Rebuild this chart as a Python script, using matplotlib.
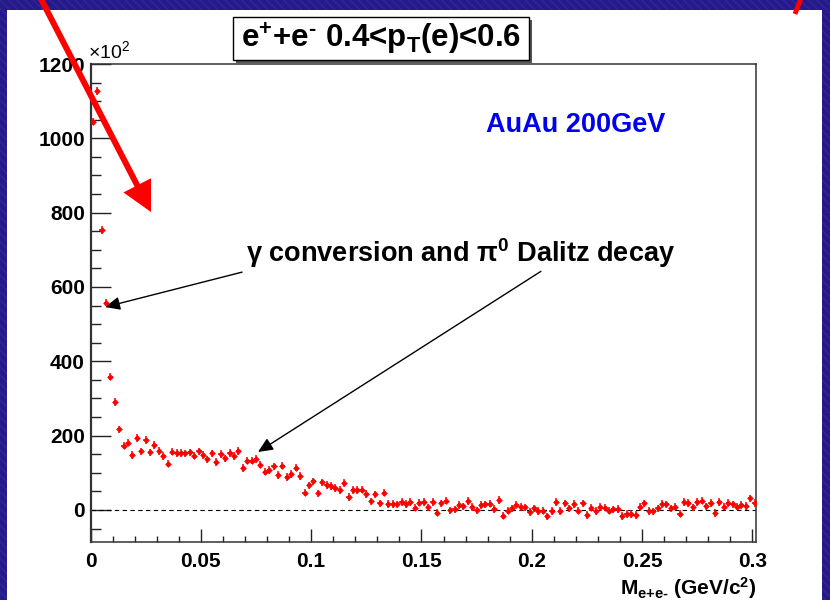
import numpy as np
import matplotlib
matplotlib.use("Agg")
import matplotlib.pyplot as plt
from matplotlib.patches import Rectangle, FancyArrow
from matplotlib.lines import Line2D
from matplotlib.transforms import IdentityTransform
from matplotlib.ticker import MultipleLocator, FuncFormatter

plt.rcParams['font.family'] = ['Liberation Sans', 'DejaVu Sans']
plt.rcParams['font.weight'] = 'bold'
plt.rcParams['mathtext.default'] = 'regular'

W, H = 830, 600

# e+e- invariant-mass histogram, 2 MeV bins, counts in units of 10^2
bin_width = 0.002
counts = [
    1045, 1127, 753, 558, 359, 290, 217, 173, 181, 148, 194, 158, 188,
    155, 175, 159, 145, 125, 157, 153, 153, 152, 155, 146, 158, 148, 136,
    152, 129, 151, 139, 153, 145, 159,
    113, 133, 133, 137, 122, 103, 108, 117, 94, 119, 89, 97, 114, 91, 47,
    66, 77, 45, 74, 67, 65, 59, 54, 72, 35, 54, 54,
    55, 43, 23, 42, 18, 47, 16, 16, 15, 22, 16, 22, 6, 20, 22, 7, 22, -7,
    18, 25, -1, 2, 13, 10, 24, 8, -1, 13, 15, 17,
    3, 27, -15, -2, 4, 14, 8, 7, -6, 4, -3, -2, -17, -3, 22, -3, 18, 4, 16,
    -2, 18, -13, 6, -3, 9, 6, -2, 2, 3,
    -16, -11, -11, -13, 9, 18, -3, -4, 4, 16, 15, 4, 9, -10, 21, 19, 7, 22,
    25, 10, 19, -8, 22, 9, 19, 15, 9, 13, 11, 31, 19,
]
count_err = 10.0
mass = bin_width * (np.arange(len(counts)) + 0.5)

title_text = "e$^{+}$+e$^{\u2010}$ 0.4<p$_{T}$(e)<0.6"
system_text = "AuAu 200GeV"
note_text = "\u03b3 conversion and \u03c0$^{0}$ Dalitz decay"
xlabel_text = "M$_{e{+}e{\u2010}}$ (GeV/c$^{2}$)"

fig = plt.figure(figsize=(W / 100, H / 100), dpi=100, facecolor='#261a8a')
pix = IdentityTransform()

# slide background with fine diagonal texture, and the white plot panel
fig.add_artist(Rectangle((0, 0), W, H, transform=pix, facecolor='#261a8a',
                         edgecolor='#32259c', hatch='\\\\\\\\', lw=0, zorder=-3))
fig.add_artist(Rectangle((7, 0), 815, H - 10, transform=pix, facecolor='white',
                         edgecolor='none', zorder=-2))

ax = fig.add_axes([90.5 / W, 1 - 542.3 / H, (756 - 90.5) / W, (542.3 - 64) / H])
ax.set_facecolor('white')
ax.errorbar(mass, counts, xerr=bin_width / 2, yerr=count_err, fmt='D', ms=3.4,
            color='red', ecolor='red', elinewidth=1.1, capsize=0, mew=0, zorder=3)
ax.axhline(0, color='black', lw=0.8, ls=(0, (4, 3)), zorder=2)

ax.set_xlim(0, 0.3016)
ax.set_ylim(-87, 1200)
ax.xaxis.set_major_locator(MultipleLocator(0.05))
ax.xaxis.set_minor_locator(MultipleLocator(0.01))
ax.yaxis.set_major_locator(MultipleLocator(200))
ax.yaxis.set_minor_locator(MultipleLocator(50))
ax.xaxis.set_major_formatter(FuncFormatter(lambda v, p: f"{v:g}"))
ax.yaxis.set_major_formatter(FuncFormatter(lambda v, p: f"{v:.0f}"))
ax.tick_params(which='both', direction='in', top=False, right=False,
               width=1, colors='#222222', labelcolor='black', labelsize=15)
ax.tick_params(axis='y', which='major', length=14.4, pad=4)
ax.tick_params(axis='y', which='minor', length=7.2)
ax.tick_params(axis='x', which='major', length=9.5, pad=7)
ax.tick_params(axis='x', which='minor', length=4.5)
for side, sp in ax.spines.items():
    sp.set_color('#333333')
    sp.set_linewidth(1.1)
ax.spines['left'].set_linewidth(1.6)

fig.text(88 / W, 1 - 58 / H, "\u00d710$^{2}$", fontsize=14, fontweight='normal',
         ha='left', va='baseline')

# annotation arrows toward the low-mass peak
arrow_kw = dict(arrowstyle='-|>,head_length=0.45,head_width=0.2', color='black',
                lw=1, shrinkA=0, shrinkB=0, mutation_scale=20)
ax.annotate('', xy=(0.0066, 546), xytext=(0.0687, 640), arrowprops=arrow_kw)
ax.annotate('', xy=(0.0759, 156), xytext=(0.2041, 642), arrowprops=arrow_kw)

fig.text(461 / W, 1 - 253 / H, note_text, fontsize=19.5, ha='center', va='center')
fig.text(576 / W, 1 - 125 / H, system_text, fontsize=19.5, color='#0000ee',
         ha='center', va='center')
fig.text(757 / W, 1 - 588 / H, xlabel_text, fontsize=15, ha='right', va='center')

# title box with drop shadow
bx0, by0, bx1, by1 = 233, 17, 529, 60
fig.add_artist(Rectangle((bx0 + 3, H - by1 - 3), bx1 - bx0, by1 - by0, transform=pix,
                         facecolor='#555555', edgecolor='none', zorder=4))
fig.add_artist(Rectangle((bx0, H - by1), bx1 - bx0, by1 - by0, transform=pix,
                         facecolor='white', edgecolor='black', lw=1, zorder=5))
fig.text((bx0 + bx1) / 2 / W, 1 - (by0 + by1) / 2 / H, title_text, fontsize=22.5,
         ha='center', va='center', zorder=6)

# large red pointer arrow over the slide
fig.add_artist(FancyArrow(40, H + 3, 111, -215, width=6, head_width=31, head_length=30,
                          length_includes_head=True, color='red', lw=0,
                          transform=pix, zorder=10))
fig.add_artist(Line2D([801, 795], [H + 2, H - 14], transform=pix, color='red',
                      lw=3.5, solid_capstyle='butt', zorder=10))

fig.savefig('out.png', dpi=100, facecolor=fig.get_facecolor())
